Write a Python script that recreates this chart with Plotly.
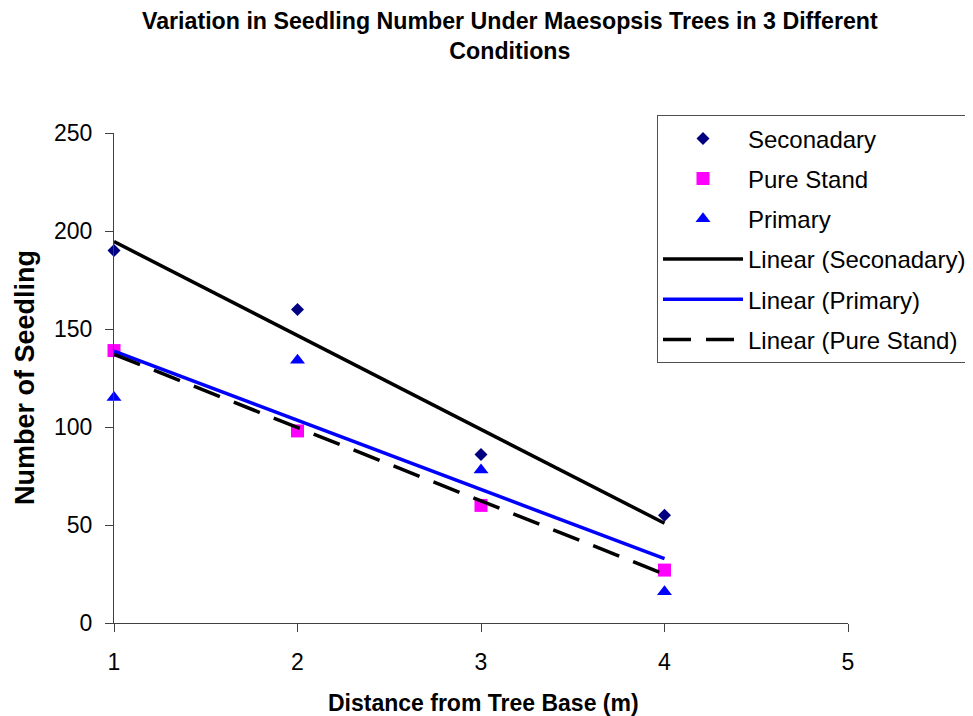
import numpy as np
import plotly.graph_objects as go

# ---- data ----
distance = [1, 2, 3, 4]
seconadary = [190, 160, 86, 55]
pure_stand = [139, 98, 60, 27]
primary = [115, 134, 78, 16]
x_ticks = [1, 2, 3, 4, 5]
y_ticks = [0, 50, 100, 150, 200, 250]

title_text = "Variation in Seedling Number Under Maesopsis Trees in 3 Different<br>Conditions"
x_title = "Distance from Tree Base (m)"
y_title = "Number of Seedling"

FONT = "Liberation Sans, Arial, sans-serif"

# page has an 8px body margin; figure coords = screen coords - OFF
OFF = 8
W, H = 973 - OFF, 716 - OFF
L, R, T, B = 114 - OFF, 848 - OFF, 132.7 - OFF, 622.7 - OFF


def trend(xs, ys):
    k, b = np.polyfit(xs, ys, 1)
    xa = np.array(xs, dtype=float)
    return list(xa), list(k * xa + b)


def px(xs):  # screen x -> paper
    return (xs - OFF - L) / (R - L)


def py(ys):  # screen y -> paper
    return (B - (ys - OFF)) / (B - T)


fig = go.Figure()
fig.add_trace(go.Scatter(x=distance, y=seconadary, mode="markers", name="Seconadary",
                         legendgroup="g1",
                         marker=dict(symbol="diamond", size=10, color="#000080"),
                         cliponaxis=False))
fig.add_trace(go.Scatter(x=distance, y=pure_stand, mode="markers", name="Pure Stand",
                         legendgroup="g2",
                         marker=dict(symbol="square", size=13, color="#FF00FF"),
                         cliponaxis=False))
fig.add_trace(go.Scatter(x=distance, y=primary, mode="markers", name="Primary",
                         legendgroup="g3",
                         marker=dict(symbol="triangle-up", size=13, color="#0000FF"),
                         cliponaxis=False))

tx, ty = trend(distance, seconadary)
fig.add_trace(go.Scatter(x=tx, y=ty, mode="lines", name="Linear (Seconadary)",
                         legendgroup="g4", line=dict(color="black", width=3.5)))
tx, ty = trend(distance, primary)
fig.add_trace(go.Scatter(x=tx, y=ty, mode="lines", name="Linear (Primary)",
                         legendgroup="g5", line=dict(color="#0000FF", width=3.5)))
tx, ty = trend(distance, pure_stand)
fig.add_trace(go.Scatter(x=tx, y=ty, mode="lines", name="Linear (Pure Stand)",
                         legendgroup="g6", line=dict(color="black", width=3.5, dash="28px,15px")))

axis_common = dict(showline=True, linecolor="#404040", linewidth=1, ticks="outside",
                   ticklen=8, tickcolor="#404040", tickwidth=1, showgrid=False,
                   zeroline=False, tickfont=dict(family=FONT, size=23, color="black"))

fig.update_layout(
    width=W, height=H,
    margin=dict(l=L, r=W - R, t=T, b=H - B, pad=0, autoexpand=False),
    paper_bgcolor="white", plot_bgcolor="white",
    font=dict(family=FONT, color="black"),
    xaxis=dict(range=[1, 5], tickvals=x_ticks, ticklabelstandoff=10, **axis_common),
    yaxis=dict(range=[0, 250], tickvals=y_ticks, ticklabelstandoff=8, **axis_common),
    legend=dict(x=px(657), xref="paper", xanchor="left",
                y=py(115), yref="paper", yanchor="top",
                bgcolor="white", bordercolor="#505050", borderwidth=1,
                font=dict(family=FONT, size=24, color="black"),
                traceorder="grouped", tracegroupgap=6, itemwidth=80),
    showlegend=True,
    annotations=[
        dict(text="<b>" + title_text + "</b>", x=px(510), y=py(6),
             xref="paper", yref="paper", xanchor="center", yanchor="top",
             showarrow=False, font=dict(family=FONT, size=23.2, color="black")),
        dict(text="<b>" + x_title + "</b>", x=px(483), y=py(703),
             xref="paper", yref="paper", xanchor="center", yanchor="middle",
             showarrow=False, font=dict(family=FONT, size=23, color="black")),
        dict(text="<b>" + y_title + "</b>", x=px(25), y=0.5, textangle=-90,
             xref="paper", yref="paper", xanchor="center", yanchor="middle",
             showarrow=False, font=dict(family=FONT, size=27, color="black")),
    ],
)

fig.write_html("out.html")
